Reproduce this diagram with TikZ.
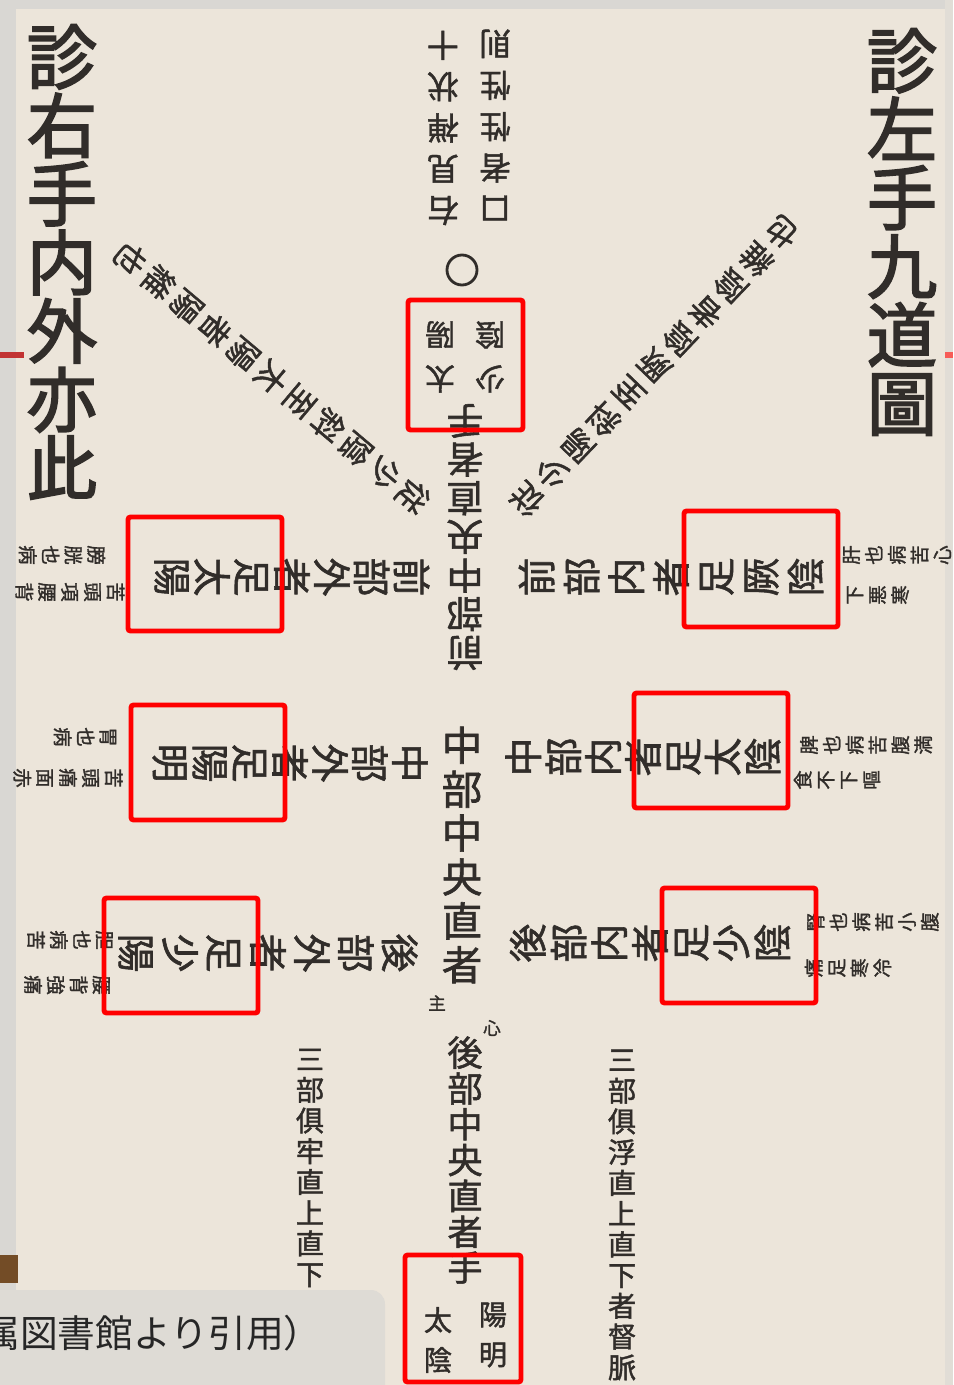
\documentclass[tikz,border=0pt]{standalone}
\usepackage{fontspec}
\newfontfamily\jp[FakeBold=1.5]{Noto Sans CJK JP}
\newfontfamily\jpt[FakeBold=2.5]{Noto Sans CJK JP}
\newfontfamily\jpc{Noto Sans CJK JP}
\definecolor{paper}{HTML}{ECE5DA}
\definecolor{edge}{HTML}{D9D7D3}
\definecolor{inkc}{HTML}{312D2A}
\definecolor{capbg}{HTML}{DEDBD5}
\begin{document}
\begin{tikzpicture}[x=0.02cm,y=-0.02cm,
  ink/.style={text=inkc, inner sep=0pt, align=center},
  vcol/.style 2 args={ink, font=\jp\fontsize{#1}{#2}\selectfont},
  title/.style={ink, font=\jpt\fontsize{40}{39}\selectfont},
  redbox/.style={draw=red, line width=2.8pt, rounded corners=1.5pt},
  small/.style={vcol={11}{13}}]
\useasboundingbox (0,0) rectangle (953,1385);
\clip (0,0) rectangle (953,1385);
% paper
\fill[paper] (0,0) rectangle (953,1385);
\fill[edge] (0,0) rectangle (16,1385);
\fill[edge] (0,0) rectangle (953,9);
\fill[edge!60!paper] (945,0) rectangle (953,1385);
\fill[red!70!black!80] (0,352) rectangle (24,358);
\fill[red!60!paper] (945,352) rectangle (953,358);
\fill[brown!60!black] (0,1255) rectangle (18,1283);

% titles
\node[title] (tR) at (902,232) {診\\左\\手\\九\\道\\圖};
\node[title] (tL) at (62,262) {診\\右\\手\\内\\外\\亦\\此};

% top notes (upside down)
\node[vcol={18}{23.5}, rotate=180] (n1) at (443,128) {右\\見\\禅\\状\\十};
\node[vcol={18}{23.5}, rotate=180] (n2) at (495,125) {口\\者\\性\\性\\則};
\node[draw=inkc, line width=1.6pt, circle, minimum size=0.6cm, inner sep=0pt] (o) at (462,270) {};

% centre column
\node[vcol={17}{25}, rotate=180] (tc1) at (440,357) {太\\陽};
\node[vcol={17}{25}, rotate=180] (tc2) at (490,357) {少\\陰};
\node[vcol={21}{22}, rotate=180] (top) at (465,537) {前\\部\\中\\央\\直\\者\\手};
\node[vcol={23}{25}] (mid) at (462,855) {中\\部\\中\\央\\直\\者};
\node[vcol={10}{12}] (m1) at (437,1003) {主};
\node[vcol={10}{12}] (m2) at (492,1028) {心};
\node[vcol={20}{20.4}] (bot) at (465,1160) {後\\部\\中\\央\\直\\者\\手};
\node[vcol={16}{22.7}] (bc1) at (493,1335) {陽\\明};
\node[vcol={16}{22.7}] (bc2) at (438,1340) {太\\陰};

% left arms
\node[vcol={22}{22.7}, rotate=-90] (LT) at (292,577) {前\\部\\外\\者\\足\\太\\陽};
\node[vcol={22}{22.7}, rotate=-90] (LM) at (290,763) {中\\部\\外\\者\\足\\陽\\明};
\node[vcol={22}{25}, rotate=-90] (LB) at (268,953) {後\\部\\外\\者\\足\\少\\陽};
% right arms
\node[vcol={22}{25.5}, rotate=90] (RT) at (671,577) {前\\部\\内\\者\\足\\厥\\陰};
\node[vcol={22}{22.7}, rotate=90] (RM) at (643,757) {中\\部\\内\\者\\足\\太\\陰};
\node[vcol={22}{23.2}, rotate=90] (RB) at (650,943) {後\\部\\内\\者\\足\\少\\陰};

% small notes at arm ends
\node[small, rotate=-90] (lt1) at (62,555) {膀\\胱\\也\\病};
\node[small, rotate=-90] (lt2) at (70,592) {苦\\頭\\項\\腰\\背};
\node[small, rotate=-90] (lm1) at (85,737) {胃\\也\\病};
\node[small, rotate=-90] (lm2) at (68,778) {苦\\頭\\痛\\面\\赤};
\node[small, rotate=-90] (lb1) at (70,940) {胆\\也\\病\\苦};
\node[small, rotate=-90] (lb2) at (67,985) {腰\\背\\強\\痛};
\node[small, rotate=90] (rt1) at (897,555) {肝\\也\\病\\苦\\心};
\node[small, rotate=90] (rt2) at (878,595) {下\\悪\\寒};
\node[small, rotate=90] (rm1) at (866,745) {脾\\也\\病\\苦\\腹\\満};
\node[small, rotate=90] (rm2) at (837,780) {食\\不\\下\\嘔};
\node[small, rotate=90] (rb1) at (873,922) {腎\\也\\病\\苦\\小\\腹};
\node[small, rotate=90] (rb2) at (848,968) {痛\\足\\寒\\冷};

% diagonals
\node[vcol={18}{21}, rotate=229.9] (dL) at (272,378) {従\\少\\陰\\斜\\至\\太\\陽\\者\\陽\\維\\也};
\node[vcol={18}{21}, rotate=136.3] (dR) at (654,366) {従\\少\\陽\\斜\\至\\厥\\陰\\者\\陰\\維\\也};

% lower verticals
\node[vcol={16}{17.5}] (vL) at (310,1168) {三\\部\\俱\\牢\\直\\上\\直\\下};
\node[vcol={16}{17.5}] (vR) at (622,1215) {三\\部\\俱\\浮\\直\\上\\直\\下\\者\\督\\脈};

% red boxes
\draw[redbox] (408,300) rectangle (523,430);
\draw[redbox] (128,517) rectangle (282,631);
\draw[redbox] (684,511) rectangle (838,627);
\draw[redbox] (131,705) rectangle (285,820);
\draw[redbox] (634,693) rectangle (788,808);
\draw[redbox] (104,898) rectangle (258,1013);
\draw[redbox] (662,888) rectangle (816,1003);
\draw[redbox] (405,1255) rectangle (521,1382);

% caption
\fill[capbg, rounded corners=8pt] (-40,1290) rectangle (385,1440);
\node[anchor=west, inner sep=0pt, text=black!85, font=\jpc\fontsize{21.5}{21.5}\selectfont] (cap) at (-18,1333) {属図書館より引用）};
\end{tikzpicture}
\end{document}
